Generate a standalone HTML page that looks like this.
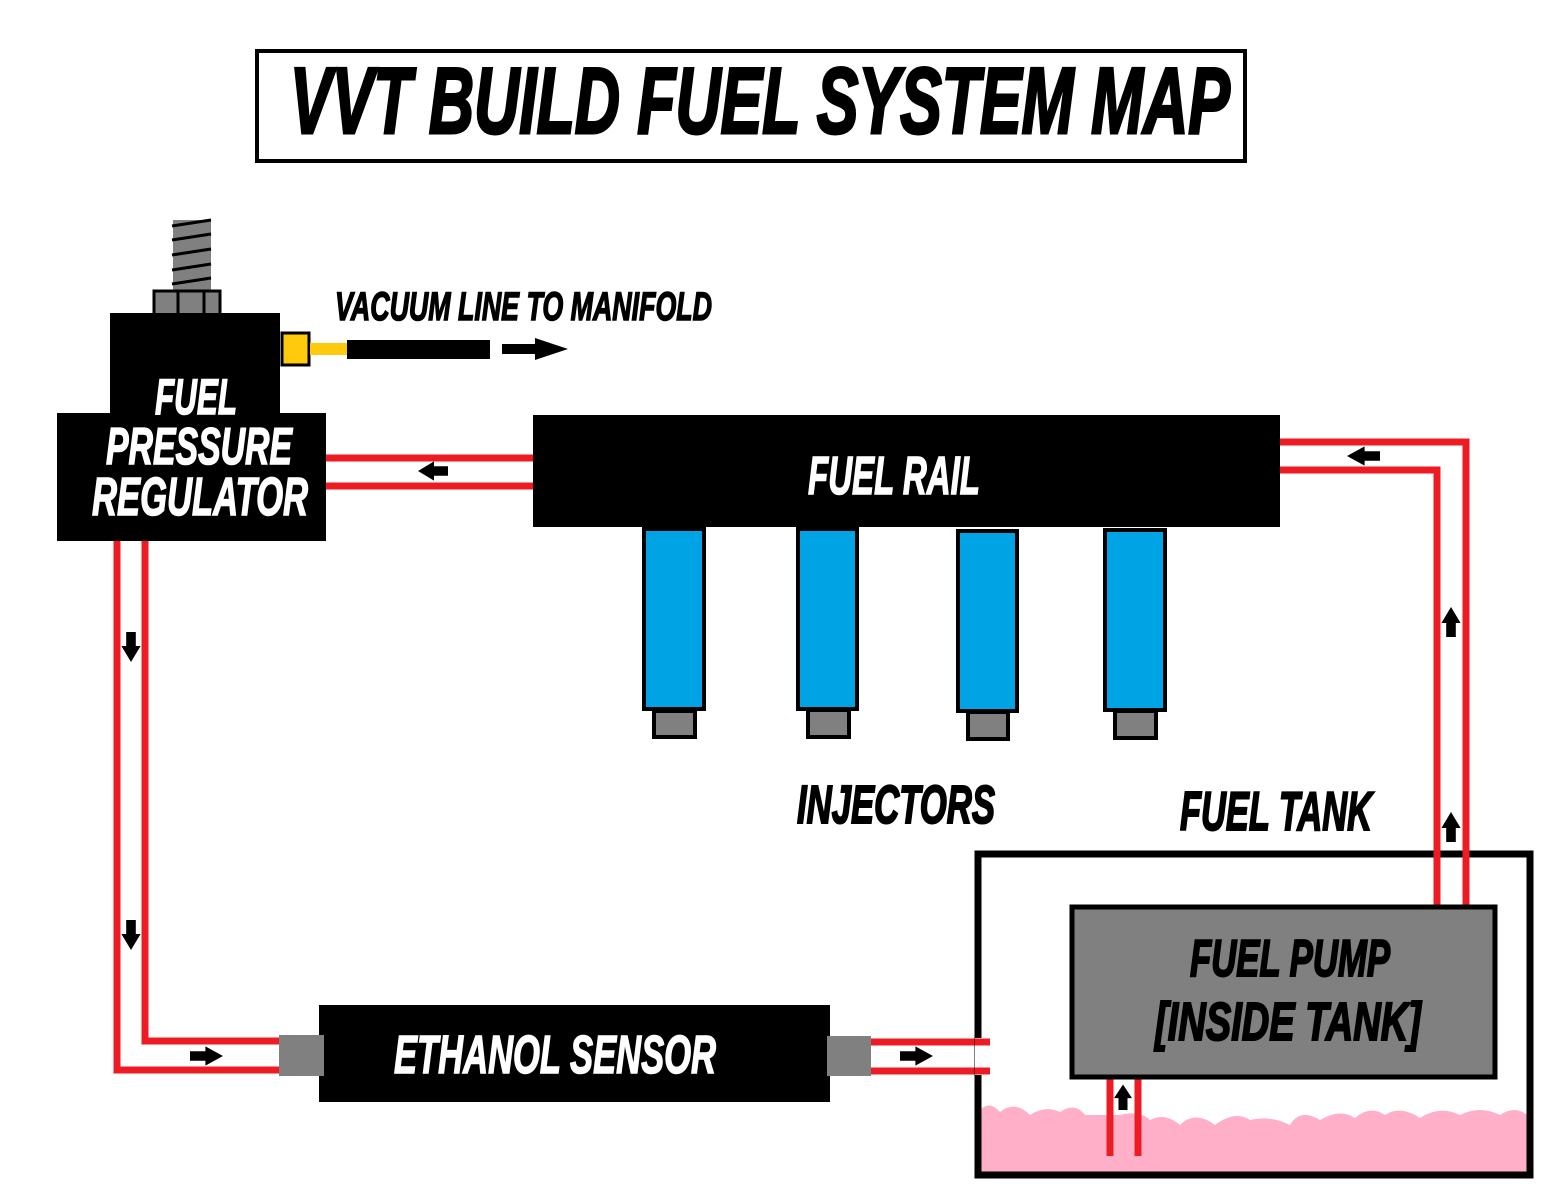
<!DOCTYPE html>
<html><head><meta charset="utf-8"><style>html,body{margin:0;padding:0;background:#fff}svg{display:block}
text{font-family:"Liberation Sans",sans-serif;font-weight:bold;font-style:italic}</style></head>
<body>
<svg width="1542" height="1196" viewBox="0 0 1542 1196" xmlns="http://www.w3.org/2000/svg">
<defs>
<g id="ar"><path d="M0,-6 L14,-6 L14,-12 L30,0 L14,12 L14,6 L0,6 Z" fill="#000"/></g>
</defs>
<!-- title -->
<rect x="257" y="51" width="988" height="110" fill="#fff" stroke="#000" stroke-width="4"/>
<text x="290" y="133" font-size="94" textLength="940" lengthAdjust="spacingAndGlyphs" stroke="#000" stroke-width="3">VVT BUILD FUEL SYSTEM MAP</text>

<!-- red lines -->
<g stroke="#ed1c24" stroke-width="7" fill="none">
<line x1="326" y1="458" x2="533" y2="458"/>
<line x1="326" y1="486" x2="533" y2="486"/>
<polyline points="1280,442 1466,442 1466,905"/>
<polyline points="1280,470 1437,470 1437,905"/>
<polyline points="117,541 117,1070 280,1070"/>
<polyline points="145,541 145,1041 280,1041"/>
<line x1="871" y1="1042" x2="990" y2="1042"/>
<line x1="871" y1="1071" x2="990" y2="1071"/>
</g>
<!-- arrows -->
<use href="#ar" transform="translate(448,471) rotate(180) scale(1,0.8)"/>
<use href="#ar" transform="translate(1380,456) rotate(180) scale(1.1,0.8)"/>
<use href="#ar" transform="translate(1451,637) rotate(-90) scale(1,0.8)"/>
<use href="#ar" transform="translate(1451,842) rotate(-90) scale(1,0.8)"/>
<use href="#ar" transform="translate(131,632) rotate(90) scale(1,0.8)"/>
<use href="#ar" transform="translate(131,920) rotate(90) scale(1,0.8)"/>
<use href="#ar" transform="translate(190,1056) scale(1.1,0.8)"/>
<use href="#ar" transform="translate(900,1056) scale(1.1,0.8)"/>

<!-- regulator -->
<rect x="173" y="220" width="38" height="70" fill="#808080"/>
<g stroke="#000" stroke-width="3">
<line x1="172" y1="226" x2="211" y2="220"/><line x1="172" y1="240" x2="211" y2="234"/>
<line x1="172" y1="255" x2="211" y2="249"/><line x1="172" y1="270" x2="211" y2="264"/>
<line x1="172" y1="284" x2="211" y2="278"/>
</g>
<rect x="154" y="291" width="66" height="24" fill="#808080" stroke="#000" stroke-width="3"/>
<line x1="178" y1="291" x2="178" y2="315" stroke="#000" stroke-width="3"/>
<line x1="204" y1="291" x2="204" y2="315" stroke="#000" stroke-width="3"/>
<rect x="110" y="313" width="170" height="102" fill="#000"/>
<rect x="57" y="413" width="269" height="128" fill="#000"/>
<rect x="282" y="333" width="27" height="32" fill="#ffc90e" stroke="#000" stroke-width="3"/>
<rect x="310" y="343" width="37" height="12" fill="#ffc90e"/>
<rect x="347" y="340" width="143" height="19" fill="#000"/>
<path d="M502,344 L535,344 L535,338 L568,349 L535,360 L535,354 L502,354 Z" fill="#000"/>
<text x="335" y="320" font-size="40" textLength="377" lengthAdjust="spacingAndGlyphs" stroke="#000" stroke-width="1.5">VACUUM LINE TO MANIFOLD</text>
<g fill="#fff" stroke="#fff" stroke-width="1.5">
<text x="155" y="414" font-size="50" textLength="82" lengthAdjust="spacingAndGlyphs">FUEL</text>
<text x="106" y="464" font-size="52" textLength="186" lengthAdjust="spacingAndGlyphs">PRESSURE</text>
<text x="92" y="515" font-size="54" textLength="216" lengthAdjust="spacingAndGlyphs">REGULATOR</text>
</g>

<!-- fuel rail -->
<rect x="533" y="415" width="747" height="112" fill="#000"/>
<text x="808" y="494" font-size="54" fill="#fff" stroke="#fff" stroke-width="1.5" textLength="172" lengthAdjust="spacingAndGlyphs">FUEL RAIL</text>

<!-- injectors -->
<g stroke="#000" stroke-width="4">
<rect x="644" y="529" width="60" height="180" fill="#00a3e4"/>
<rect x="654" y="711" width="41" height="26" fill="#808080"/>
<rect x="798" y="529" width="59" height="180" fill="#00a3e4"/>
<rect x="808" y="710" width="41" height="27" fill="#808080"/>
<rect x="958" y="531" width="59" height="180" fill="#00a3e4"/>
<rect x="968" y="712" width="40" height="27" fill="#808080"/>
<rect x="1105" y="530" width="60" height="180" fill="#00a3e4"/>
<rect x="1115" y="711" width="41" height="27" fill="#808080"/>
</g>
<g stroke="#000" stroke-width="2">
<text x="797" y="823" font-size="54" textLength="198" lengthAdjust="spacingAndGlyphs">INJECTORS</text>
<text x="1180" y="830" font-size="55" textLength="192" lengthAdjust="spacingAndGlyphs">FUEL TANK</text>
</g>

<!-- ethanol sensor -->
<rect x="319" y="1005" width="511" height="97" fill="#000"/>
<rect x="279" y="1035" width="45" height="41" fill="#808080"/>
<rect x="827" y="1036" width="44" height="40" fill="#808080"/>
<text x="394" y="1073" font-size="54" fill="#fff" stroke="#fff" stroke-width="1.5" textLength="322" lengthAdjust="spacingAndGlyphs">ETHANOL SENSOR</text>

<!-- tank -->
<path d="M980,1110 Q990,1100 1000,1112 Q1015,1100 1030,1115 Q1045,1105 1060,1112 Q1075,1102 1085,1115 L1120,1115 Q1140,1110 1150,1120 Q1165,1112 1180,1125 Q1195,1110 1215,1125 Q1235,1110 1250,1120 Q1270,1115 1290,1125 Q1300,1108 1320,1120 Q1340,1108 1355,1118 Q1370,1105 1385,1115 Q1400,1105 1420,1118 Q1440,1105 1460,1115 Q1480,1105 1500,1115 Q1515,1105 1527,1115 L1527,1174 L980,1174 Z" fill="#ffafc8"/>
<rect x="978" y="854" width="552" height="321" fill="none" stroke="#000" stroke-width="7"/>
<rect x="975" y="1038" width="14" height="37" fill="#fff"/>
<g stroke="#ed1c24" stroke-width="7" fill="none">
<line x1="975" y1="1042" x2="990" y2="1042"/>
<line x1="975" y1="1071" x2="990" y2="1071"/>
<line x1="1437" y1="850" x2="1437" y2="905"/>
<line x1="1466" y1="850" x2="1466" y2="905"/>
<line x1="1110" y1="1079" x2="1110" y2="1156"/>
<line x1="1138" y1="1079" x2="1138" y2="1156"/>
</g>
<use href="#ar" transform="translate(1123,1110) rotate(-90) scale(0.85,0.75)"/>
<rect x="1072" y="907" width="423" height="170" fill="#808080" stroke="#000" stroke-width="5"/>
<g stroke="#000" stroke-width="2">
<text x="1190" y="976" font-size="52" textLength="200" lengthAdjust="spacingAndGlyphs">FUEL PUMP</text>
<text x="1155" y="1040" font-size="54" textLength="266" lengthAdjust="spacingAndGlyphs">[INSIDE TANK]</text>
</g>
</svg>
</body></html>
